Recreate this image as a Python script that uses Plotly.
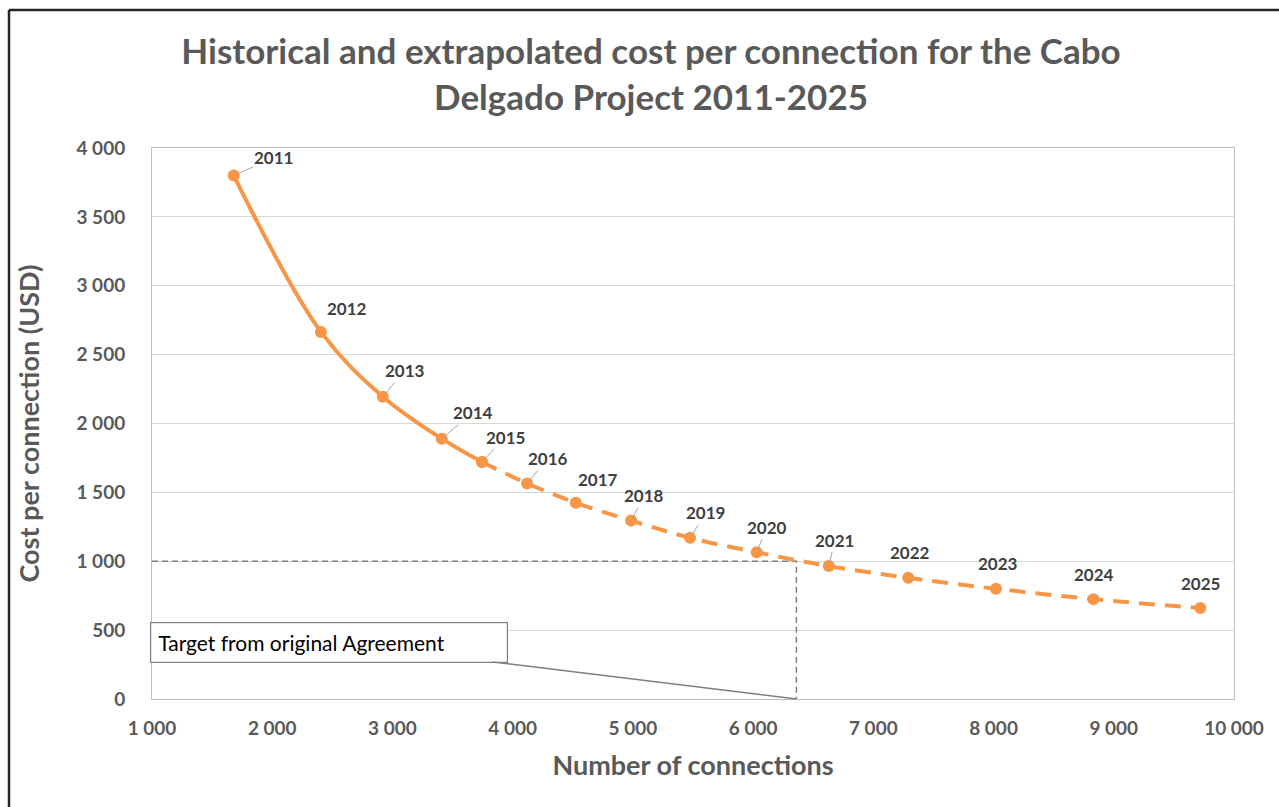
import plotly.graph_objects as go

# ---- data ----
years = [2011, 2012, 2013, 2014, 2015, 2016, 2017, 2018, 2019, 2020,
         2021, 2022, 2023, 2024, 2025]
connections = [1680, 2405, 2920, 3410, 3745, 4120, 4525, 4985, 5475, 6030,
               6630, 7290, 8020, 8830, 9720]
cost = [3800, 2665, 2195, 1890, 1720, 1565, 1425, 1295, 1170, 1065,
        965, 880, 800, 725, 660]
historical_last = 2015           # solid line up to this year, dashed after
target_cost = 1000               # target from original agreement
target_connections = 6360        # connections at which target is reached
x_ticks = [1000, 2000, 3000, 4000, 5000, 6000, 7000, 8000, 9000, 10000]
y_ticks = [0, 500, 1000, 1500, 2000, 2500, 3000, 3500, 4000]

# label offsets (pixels) for the data labels
label_dx = [40, 26, 22, 31, 23, 21, 22, 13, 16, 10, 6, 2, 2, 1, 0]
label_dy = [-18, -23, -26, -26, -25, -25, -23, -25, -25, -25, -26, -25, -25, -25, -25]
label_arrow = [True, False, True, True, True, True, False, True, True, True, True,
               False, False, False, False]

ORANGE = "#F79646"
GREY_TXT = "#595959"
FONT = "Lato"

k = years.index(historical_last)
hist_x, hist_y = connections[:k + 1], cost[:k + 1]
proj_x, proj_y = connections[k:], cost[k:]

fig = go.Figure()

# target reference lines
fig.add_trace(go.Scatter(
    x=[x_ticks[0], target_connections, target_connections],
    y=[target_cost, target_cost, y_ticks[0]],
    mode="lines", line=dict(color="#7F7F7F", width=1.5, dash="6px,4px"),
    hoverinfo="skip", showlegend=False))

fig.add_trace(go.Scatter(
    x=proj_x, y=proj_y, mode="lines+markers",
    line=dict(color=ORANGE, width=4, shape="spline", dash="16px,10px"),
    marker=dict(color=ORANGE, size=12),
    showlegend=False, name="Extrapolated"))
fig.add_trace(go.Scatter(
    x=hist_x, y=hist_y, mode="lines+markers",
    line=dict(color=ORANGE, width=4, shape="spline"),
    marker=dict(color=ORANGE, size=12),
    showlegend=False, name="Historical"))

annotations = []
for yr, cx, cy, dx, dy, arr in zip(years, connections, cost, label_dx, label_dy, label_arrow):
    annotations.append(dict(
        x=cx, y=cy, xref="x", yref="y", text=f"<b>{yr}</b>",
        showarrow=True, arrowhead=0, arrowwidth=1,
        arrowcolor="#A6A6A6" if arr else "rgba(0,0,0,0)",
        ax=dx, ay=dy, standoff=2,
        font=dict(family=FONT, size=17, color="#404040")))

annotations.append(dict(
    x=target_connections, y=y_ticks[0], xref="x", yref="y",
    text="Target from original Agreement", align="left",
    showarrow=True, arrowhead=0, arrowwidth=1.5, arrowcolor="#7F7F7F",
    ax=-467, ay=-57, width=342, height=25, borderpad=7,
    bordercolor="#7F7F7F", borderwidth=1.2, bgcolor="white",
    font=dict(family=FONT, size=21, color="#000000")))

W, H = 1279, 807
L, R, T, B = 152, 45, 148, 108
pw, ph = W - L - R, H - T - B

def px_x(p):
    return (p - L) / pw

def px_y(p):
    return (H - B - p) / ph

shapes = [
    dict(type="line", xref="paper", yref="paper",
         x0=px_x(9), x1=px_x(1300), y0=px_y(10), y1=px_y(10),
         line=dict(color="#262626", width=2.5)),
    dict(type="line", xref="paper", yref="paper",
         x0=px_x(9), x1=px_x(9), y0=px_y(10), y1=px_y(830),
         line=dict(color="#262626", width=2.5)),
]

fig.update_layout(
    width=W, height=H,
    margin=dict(l=L, r=R, t=T, b=B),
    paper_bgcolor="white", plot_bgcolor="white",
    separators=". ",
    title=dict(text="<b>Historical and extrapolated cost per connection for the Cabo<br>Delgado Project 2011-2025</b>",
               x=651 / W, xref="container", xanchor="center",
               y=1 - 64 / H, yref="container", yanchor="middle",
               font=dict(family=FONT, size=35, color=GREY_TXT)),
    xaxis=dict(range=[x_ticks[0], x_ticks[-1]], tickvals=x_ticks, tickformat=",d",
               showgrid=False, showline=True, linecolor="#BFBFBF", linewidth=1, mirror=True,
               zeroline=False, ticks="", ticklabelstandoff=12,
               tickfont=dict(family=FONT, size=19, color=GREY_TXT, weight="bold"),
               title=dict(text="<b>Number of connections</b>", standoff=18,
                          font=dict(family=FONT, size=27, color=GREY_TXT))),
    yaxis=dict(range=[y_ticks[0], y_ticks[-1]], tickvals=y_ticks, tickformat=",d",
               showgrid=True, gridcolor="#D9D9D9", gridwidth=1,
               showline=True, linecolor="#BFBFBF", linewidth=1, mirror=True,
               zeroline=False, ticks="", ticklabelstandoff=22,
               tickfont=dict(family=FONT, size=19, color=GREY_TXT, weight="bold"),
               title=dict(text="<b>Cost per connection (USD)</b>", standoff=29,
                          font=dict(family=FONT, size=27, color=GREY_TXT))),
    annotations=annotations,
    shapes=shapes,
)

fig.write_html("out.html")
